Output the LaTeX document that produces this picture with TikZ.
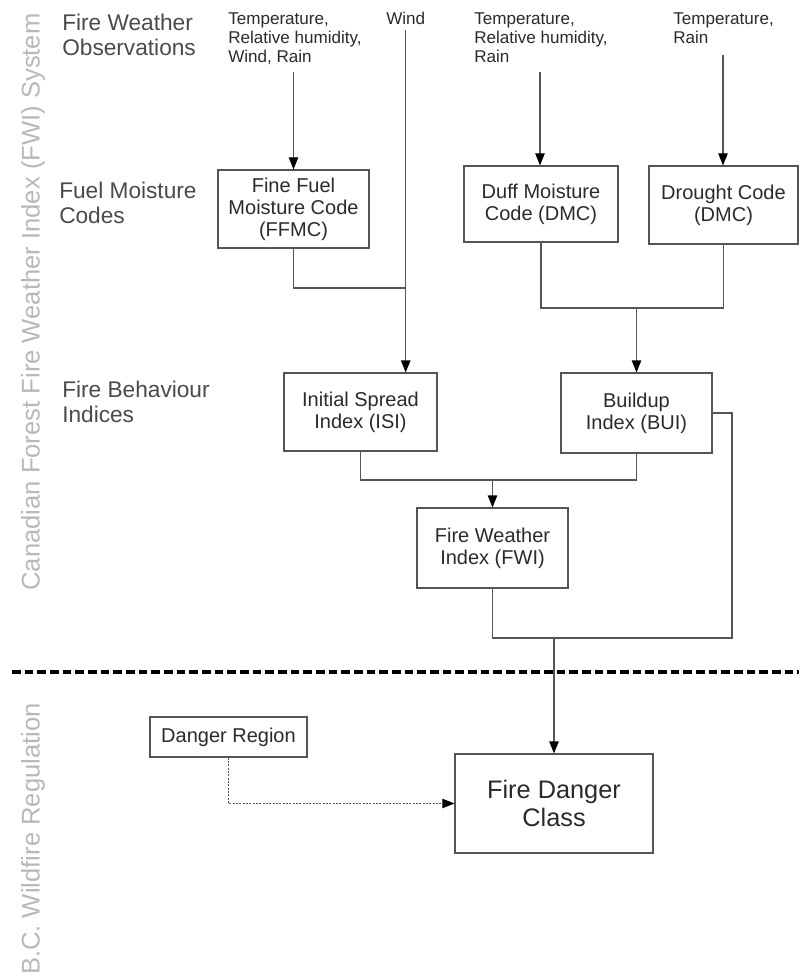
\documentclass[tikz,border=0pt]{standalone}
\usepackage{fontspec}
\setmainfont{Liberation Sans}
\usetikzlibrary{arrows.meta}
\definecolor{linegray}{HTML}{555555}
\definecolor{txtdark}{HTML}{2A2A2A}
\definecolor{sectgray}{HTML}{4A4A4A}
\definecolor{sidegray}{HTML}{B8B8B8}
\tikzset{
  box/.style={draw=linegray, line width=0.8pt, inner sep=0pt, align=center, text=txtdark,
              font=\fontsize{15}{16.5}\selectfont},
  obs/.style={inner sep=0pt, anchor=north west, align=left, text=txtdark,
              font=\fontsize{12.8}{14.6}\selectfont},
  sect/.style={inner sep=0pt, anchor=north west, align=left, text=sectgray,
              font=\fontsize{17}{18.75}\selectfont},
  side/.style={inner sep=0pt, rotate=90, text=sidegray, font=\fontsize{19.2}{22}\selectfont},
  conn/.style={draw=linegray, line width=0.8pt},
  arr/.style={conn, -{Triangle[length=9pt,width=7pt,fill=black,color=black]}},
  sep/.style={draw=black, line width=3pt, dash pattern=on 6.5pt off 3pt},
  dotconn/.style={draw=linegray, line width=0.7pt, dash pattern=on 1.5pt off 1pt,
                  -{Triangle[length=9pt,width=7pt,fill=black,color=black]}}
}
\begin{document}
\begin{tikzpicture}[x=0.75pt,y=-0.75pt]
\useasboundingbox (0,0) rectangle (799,977);

% side labels
\node[side] (sideA) at (33,302) {Canadian Forest Fire Weather Index (FWI) System};
\node[side] (sideB) at (33,839) {B.C. Wildfire Regulation};

% section labels
\node[sect] (s1) at (62,14) {Fire Weather\\Observations};
\node[sect] (s2) at (59,182) {Fuel Moisture\\Codes};
\node[sect] (s3) at (62,381) {Fire Behaviour\\Indices};

% observation texts
\node[obs] (obs1) at (228,12) {Temperature,\\Relative humidity,\\Wind, Rain};
\node[obs] (wind) at (386,12) {Wind};
\node[obs] (obs2) at (474,12) {Temperature,\\Relative humidity,\\Rain};
\node[obs] (obs3) at (673,12) {Temperature,\\Rain};

% boxes
\node[box, minimum width=113.25pt, minimum height=58.5pt] (ffmc) at (293.5,209) {Fine Fuel\\Moisture Code\\(FFMC)};
\node[box, minimum width=115.5pt, minimum height=57pt] (dmc) at (541,204) {Duff Moisture\\Code (DMC)};
\node[box, minimum width=111.75pt, minimum height=58.5pt] (dc) at (723.5,205) {Drought Code\\(DMC)};
\node[box, minimum width=114.75pt, minimum height=58.5pt] (isi) at (360.5,412) {Initial Spread\\Index (ISI)};
\node[box, minimum width=113.25pt, minimum height=60pt] (bui) at (636.5,413) {Buildup\\Index (BUI)};
\node[box, minimum width=113.25pt, minimum height=60pt] (fwi) at (492.5,548) {Fire Weather\\Index (FWI)};
\node[box, minimum width=117.75pt, minimum height=30pt] (dr) at (228.5,737) {Danger Region};
\node[box, minimum width=148.5pt, minimum height=74.25pt, font=\fontsize{19}{21}\selectfont] (fdc) at (554,803.5) {Fire Danger\\Class};

% junction coordinates
\coordinate (o1) at (ffmc.north |- 0,72);
\coordinate (w1) at (wind.south |- 0,30);
\coordinate (o2) at (540,72);
\coordinate (o3) at (723,55);
\coordinate (j1) at (wind.south |- 0,288);
\coordinate (j2) at (bui.north |- 0,308);
\coordinate (j3) at (fwi.north |- 0,480);
\coordinate (j4) at (fdc.north |- 0,638);
\coordinate (j5) at (732,638);
\coordinate (sepL) at (12,672);
\coordinate (sepR) at (799,672);

% connectors
\draw[arr] (o1) -- (ffmc.north);
\draw[arr] (w1) -- (w1 |- isi.north);
\draw[arr] (o2) -- (o2 |- dmc.north);
\draw[arr] (o3) -- (o3 |- dc.north);
\draw[conn] (ffmc.south) |- (j1);
\draw[conn] (dmc.south) |- (j2) -| (dc.south);
\draw[arr] (j2) -- (bui.north);
\draw[conn] (isi.south) |- (j3) -| (bui.south);
\draw[arr] (j3) -- (fwi.north);
\draw[conn] (fwi.south) |- (j5) |- (bui.east);
\draw[arr] (j4) -- (fdc.north);
\draw[dotconn] (dr.south) |- (fdc.west);

% separator
\draw[sep] (sepL) -- (sepR);
\end{tikzpicture}
\end{document}
